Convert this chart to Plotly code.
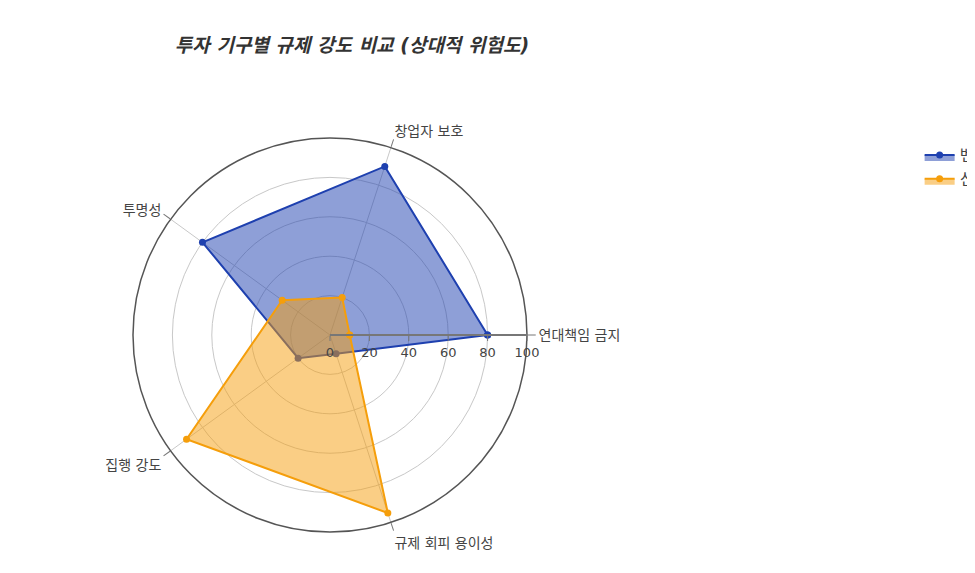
import plotly.graph_objects as go

# 비교 항목 (반시계 방향, 0도부터)
categories = ["연대책임 금지", "창업자 보호", "투명성", "집행 강도", "규제 회피 용이성"]

vc_name = "벤처투자조합 (VC)"
vc_values = [80, 90, 80, 20, 10]

nt_name = "신기술사업투자조합"
nt_values = [10, 20, 30, 90, 95]

radial_ticks = [0, 20, 40, 60, 80, 100]

FONT = "DejaVu Sans, Noto Sans CJK KR"


def closed(vals):
    return vals + vals[:1]


fig = go.Figure()

fig.add_trace(go.Scatterpolar(
    r=closed(vc_values),
    theta=closed(categories),
    name=vc_name,
    mode="lines+markers",
    fill="toself",
    fillcolor="rgba(30,64,175,0.5)",
    line=dict(color="#1e40af", width=2),
    marker=dict(color="#1e40af", size=7),
))

fig.add_trace(go.Scatterpolar(
    r=closed(nt_values),
    theta=closed(categories),
    name=nt_name,
    mode="lines+markers",
    fill="toself",
    fillcolor="rgba(245,158,11,0.5)",
    line=dict(color="#f59e0b", width=2),
    marker=dict(color="#f59e0b", size=7),
))

fig.update_layout(
    width=975,
    height=573,
    paper_bgcolor="white",
    font=dict(family=FONT, size=13, color="#444"),
    title=dict(
        text="<b><i>투자 기구별 규제 강도 비교 (상대적 위험도)</i></b>",
        x=0.3528, xanchor="center",
        y=0.9354, yanchor="middle",
        font=dict(family=FONT, size=19, color="#333"),
    ),
    margin=dict(l=0, r=0, t=130, b=49, autoexpand=False),
    polar=dict(
        domain=dict(x=[0.1282, 0.5323], y=[0, 1]),
        bgcolor="white",
        radialaxis=dict(
            range=[0, 100],
            tickvals=radial_ticks,
            showline=True,
            linecolor="#777",
            linewidth=2,
            gridcolor="#c8c8c8",
            ticks="outside",
            ticklen=5,
            tickcolor="#777",
            tickfont=dict(size=13, color="#444"),
        ),
        angularaxis=dict(
            direction="counterclockwise",
            rotation=0,
            showline=True,
            linecolor="#555",
            linewidth=1.5,
            gridcolor="#c8c8c8",
            ticks="outside",
            ticklen=8,
            tickcolor="#777",
            tickfont=dict(size=14, color="#444"),
        ),
    ),
    legend=dict(
        x=0.935, xanchor="left",
        y=1.0, yanchor="top",
        font=dict(size=16),
    ),
)

fig.write_html("out.html")
